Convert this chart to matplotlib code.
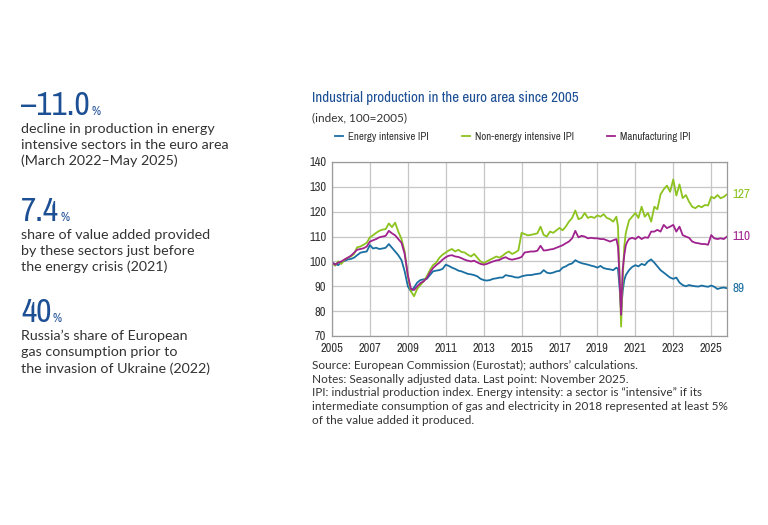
import os
import matplotlib
matplotlib.use("Agg")
import matplotlib.pyplot as plt
import matplotlib.dates as mdates
from matplotlib import font_manager
from matplotlib.font_manager import FontProperties
import pandas as pd

# look for the narrowest regular face for the chart text
def narrowness(path):
    b = os.path.basename(path).lower()
    if "narrow" in b:
        return 0
    if "extracondensed" in b or "extra-condensed" in b:
        return 1
    if "condensed" in b and "semi" not in b:
        return 2
    return 9

cond = []
for f in font_manager.fontManager.ttflist:
    b = os.path.basename(f.fname).lower()
    if any(k in b for k in ("bold", "italic", "oblique", "light", "thin", "black", "medium")):
        continue
    if narrowness(f.fname) < 9:
        cond.append(f.fname)
cond.sort(key=lambda p: (narrowness(p), p))
names = {f.name for f in font_manager.fontManager.ttflist}
body = "Lato" if "Lato" in names else "DejaVu Sans"
NARROW_FILE = cond[0] if cond else None


def nfont(size):
    if NARROW_FILE:
        return FontProperties(fname=NARROW_FILE, size=size)
    return FontProperties(family="Roboto", size=size)


# dates: every second month, monthly through spring/summer 2020
dates = (list(pd.date_range("2005-01-01", "2020-01-01", freq="2MS"))
         + list(pd.date_range("2020-02-01", "2020-08-01", freq="MS"))
         + list(pd.date_range("2020-09-01", "2025-11-01", freq="2MS")))

# Energy intensive IPI (Jan, Mar, May, Jul, Sep, Nov)
energy = [
    99.5, 99.0, 98.5, 99.8, 100.2, 100.8,     # 2005
    101.0, 101.5, 102.5, 103.5, 103.8, 104.0,  # 2006
    106.6, 105.2, 105.5, 105.0, 105.2, 105.5,  # 2007
    107.0, 105.5, 104.0, 102.5, 100.5, 96.0,   # 2008
    90.0, 88.0, 89.5, 91.5, 92.5, 92.8,        # 2009
    93.0, 94.5, 96.0, 96.3, 96.5, 97.0,        # 2010
    98.7, 98.2, 97.5, 97.0, 96.3, 96.0,        # 2011
    95.5, 95.0, 94.8, 94.5, 94.0, 93.0,        # 2012
    92.5, 92.3, 92.5, 93.0, 93.2, 93.5,        # 2013
    93.5, 94.5, 94.2, 94.0, 93.6, 93.5,        # 2014
    94.0, 94.3, 94.5, 94.5, 94.8, 95.0,        # 2015
    95.2, 96.5, 95.5, 95.2, 95.5, 96.0,        # 2016
    96.2, 97.5, 98.0, 98.8, 99.2, 100.5,       # 2017
    99.8, 99.3, 99.0, 98.7, 98.3, 98.0,        # 2018
    97.5, 98.2, 97.3, 97.0, 96.8, 96.5,        # 2019
    97.5,                                      # Jan 2020
    97.0, 90.0, 80.0, 88.0, 92.5, 94.5, 95.5,  # Feb-Aug 2020
    96.5, 97.8,                                # Sep, Nov 2020
    98.5, 98.0, 99.0, 98.5, 100.0, 100.8,      # 2021
    99.5, 98.0, 96.5, 95.5, 94.5, 93.5,        # 2022
    93.0, 93.5, 91.5, 90.5, 90.0, 90.5,        # 2023
    90.2, 90.0, 89.9, 90.3, 90.0, 89.8,        # 2024
    90.3, 89.8, 88.9, 89.3, 89.5, 89.2,        # 2025
]

# Non-energy intensive IPI
non_energy = [
    99.3, 98.3, 100.0, 99.0, 100.7, 101.5,
    102.0, 103.0, 105.7, 106.0, 106.7, 107.5,
    109.7, 110.5, 111.5, 112.3, 112.8, 113.0,
    115.3, 113.8, 115.6, 112.0, 109.0, 104.0,
    94.0, 88.0, 86.0, 89.0, 90.5, 92.0,
    94.0, 96.5, 98.5, 99.5, 101.5, 102.7,
    103.6, 104.4, 105.0, 104.0, 104.7, 103.8,
    103.6, 102.7, 102.0, 103.0, 101.5, 100.0,
    99.3, 100.0, 100.7, 101.3, 102.0, 101.5,
    102.3, 103.3, 104.0, 103.0, 103.6, 104.5,
    111.5, 111.0, 110.5, 110.7, 111.0, 111.3,
    114.0, 110.7, 110.0, 112.0, 111.5, 112.5,
    113.5, 112.5, 114.0, 116.0, 117.5, 120.5,
    117.0, 117.5, 119.5, 117.5, 118.0, 117.5,
    118.5, 118.0, 119.0, 117.5, 117.0, 116.0,
    118.0,
    114.0, 96.0, 73.8, 92.5, 106.0, 111.5, 114.0,
    116.5, 118.0,
    119.5, 117.5, 122.0, 118.0, 119.5, 116.0,
    122.0, 121.0, 127.0, 129.0, 130.5, 128.0,
    133.0, 126.5, 131.0, 125.5, 126.7, 124.0,
    122.0, 121.4, 122.4, 121.8, 122.7, 122.5,
    126.0, 125.4, 126.7, 125.4, 126.0, 127.0,
]

# Manufacturing IPI
manufacturing = [
    99.6, 98.7, 99.5, 100.0, 100.8, 101.5,
    102.3, 103.5, 104.7, 105.0, 105.3, 106.0,
    108.0, 108.5, 109.0, 109.7, 110.0, 110.3,
    112.3, 111.3, 110.5, 109.0, 107.5, 103.0,
    94.5, 89.0, 88.5, 90.0, 91.3, 92.0,
    93.3, 95.5, 97.3, 98.5, 99.5, 100.7,
    101.7, 102.3, 102.5, 102.0, 101.8, 101.3,
    100.7, 100.3, 100.0, 100.3, 99.6, 99.0,
    98.7, 99.0, 99.5, 100.0, 100.4, 100.6,
    101.3, 101.7, 101.0, 100.7, 101.0, 101.3,
    101.8, 103.6, 103.8, 104.0, 104.0, 104.3,
    106.3, 104.4, 104.5, 104.8, 105.0, 105.5,
    106.0, 106.5, 107.3, 108.0, 109.3, 112.3,
    109.7, 110.3, 110.0, 109.3, 109.5, 109.3,
    109.3, 109.0, 109.0, 108.5, 108.0, 108.5,
    109.0,
    106.0, 94.0, 78.5, 96.6, 102.5, 106.5, 108.0,
    109.0, 109.5,
    109.0, 110.0, 109.0, 109.7, 109.5, 112.0,
    112.0, 112.7, 112.0, 114.7, 113.4, 114.0,
    114.7, 112.0, 114.0, 110.6, 110.0, 109.5,
    108.0, 107.5, 107.3, 107.0, 107.0, 106.7,
    110.6, 109.3, 109.0, 109.3, 109.0, 110.0,
]

series_names = ["Energy intensive IPI", "Non-energy intensive IPI", "Manufacturing IPI"]
colors = ["#1a6fa2", "#8cc31f", "#a0228e"]
xtick_years = [2005, 2007, 2009, 2011, 2013, 2015, 2017, 2019, 2021, 2023, 2025]

title_blue = "#1d4f94"
text_grey = "#333333"

fig = plt.figure(figsize=(7.68, 5.25), dpi=100)
W, H = 768, 525
ax = fig.add_axes([332 / W, 1 - 336 / H, 395 / W, 174 / H])

for vals, name, col in zip([energy, non_energy, manufacturing], series_names, colors):
    ax.plot(dates, vals, color=col, lw=1.3, label=name)
    ax.annotate(f"{vals[-1]:.0f}", xy=(dates[-1], vals[-1]), xytext=(4, 0),
                textcoords="offset points", va="center", ha="left",
                color=col, fontproperties=nfont(9.5))

ax.set_ylim(70, 140)
ax.set_yticks(range(70, 141, 10))
ax.set_xlim(pd.Timestamp("2005-01-01"), pd.Timestamp("2025-11-01"))
ax.set_xticks([pd.Timestamp(f"{y}-01-01") for y in xtick_years])
ax.xaxis.set_major_formatter(mdates.DateFormatter("%Y"))
ax.grid(True, color="#c6c6c6", lw=0.9)
ax.set_axisbelow(True)
for s in ax.spines.values():
    s.set_color("#9a9a9a")
    s.set_linewidth(0.9)
ax.tick_params(axis="y", length=0, pad=4, labelcolor=text_grey)
ax.tick_params(axis="x", length=0, pad=5, labelcolor=text_grey)
for lab in ax.get_xticklabels() + ax.get_yticklabels():
    lab.set_fontproperties(nfont(9))

# title block
fig.text(312 / W, 1 - 98 / H, "Industrial production in the euro area since 2005",
         fontproperties=nfont(10.8), color=title_blue, va="center")
fig.text(312 / W, 1 - 118 / H, "(index, 100=2005)", family=body, fontsize=8.5,
         color=text_grey, va="center")
leg = fig.legend(loc="center left", bbox_to_anchor=(325 / W, 1 - 137 / H), ncol=3,
                 frameon=False, handlelength=0.75, handletextpad=0.5,
                 columnspacing=3.0, prop=nfont(7.8))
for t in leg.get_texts():
    t.set_color(text_grey)

notes = ("Source: European Commission (Eurostat); authors\u2019 calculations.\n"
         "Notes: Seasonally adjusted data. Last point: November 2025.\n"
         "IPI: industrial production index. Energy intensity: a sector is \u201cintensive\u201d if its\n"
         "intermediate consumption of gas and electricity in 2018 represented at least 5%\n"
         "of the value added it produced.")
fig.text(312 / W, 1 - 360 / H, notes, family=body, fontsize=8.5, color=text_grey,
         va="top", linespacing=1.3)

# key figures on the left
facts = [
    ("\u201311.0", "decline in production in energy\nintensive sectors in the euro area\n(March 2022\u2013May 2025)", 106),
    ("7.4", "share of value added provided\nby these sectors just before\nthe energy crisis (2021)", 212),
    ("40", "Russia\u2019s share of European\ngas consumption prior to\nthe invasion of Ukraine (2022)", 313),
]
for big, desc, yc in facts:
    t = fig.text(21 / W, 1 - yc / H, big, fontproperties=nfont(24), color=title_blue,
                 va="center")
    plt.annotate("%", xy=(1, 0.12), xycoords=t, xytext=(1, 0), textcoords="offset points",
                 fontproperties=nfont(9), color=title_blue, va="bottom", ha="left",
                 annotation_clip=False)
    fig.text(21 / W, 1 - (yc + 17) / H, desc, family=body, fontsize=10.3, color=text_grey,
             va="top", linespacing=1.38)

fig.savefig("out.png", dpi=100)
